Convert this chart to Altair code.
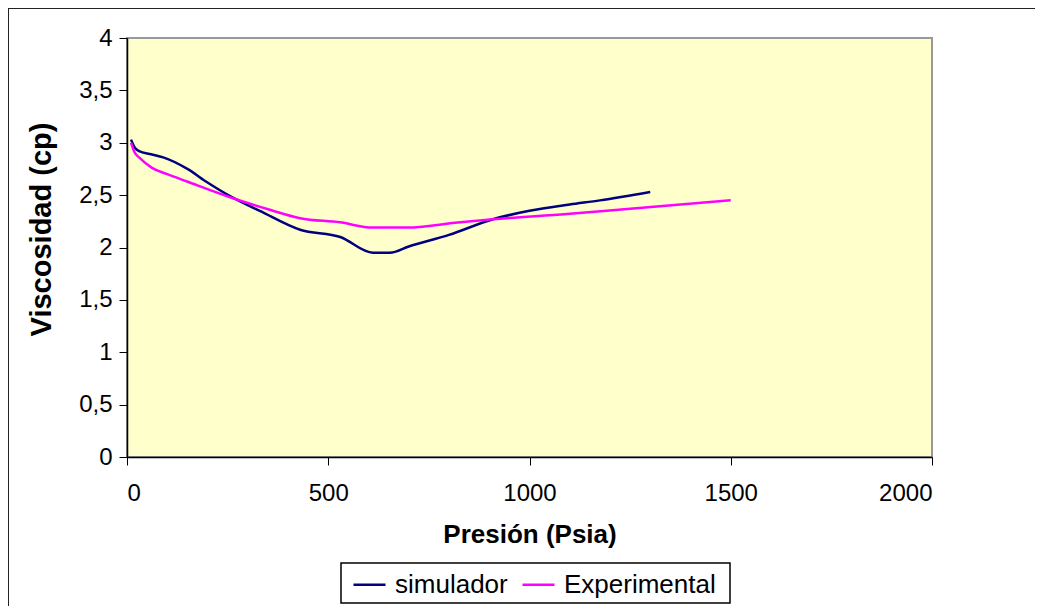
import altair as alt
import pandas as pd

sim_p = [10, 20, 30, 60, 90, 150, 200, 256, 330, 430, 530, 611, 653, 700, 800, 909, 1000, 1100, 1175, 1300]
sim_v = [3.03, 2.95, 2.92, 2.89, 2.86, 2.75, 2.62, 2.49, 2.35, 2.17, 2.10, 1.95, 1.95, 2.01, 2.12, 2.27, 2.35, 2.41, 2.45, 2.53]
exp_p = [10, 20, 30, 62, 100, 149, 256, 355, 430, 529, 611, 700, 800, 909, 1093, 1250, 1500]
exp_v = [3.00, 2.90, 2.86, 2.76, 2.70, 2.63, 2.48, 2.36, 2.28, 2.24, 2.19, 2.19, 2.23, 2.27, 2.32, 2.37, 2.45]
series = ["simulador", "Experimental"]
colors = ["#000080", "#FF00FF"]
y_ticks = [0, 0.5, 1, 1.5, 2, 2.5, 3, 3.5, 4]
x_ticks = [0, 500, 1000, 1500, 2000]

df = pd.concat([
    pd.DataFrame({"p": sim_p, "v": sim_v, "s": series[0], "o": range(len(sim_p))}),
    pd.DataFrame({"p": exp_p, "v": exp_v, "s": series[1], "o": range(len(exp_p))}),
])

W, H = 805, 419

lines = alt.Chart(df).mark_line(strokeWidth=2.5, interpolate="monotone").encode(
    x=alt.X("p:Q", scale=alt.Scale(domain=[0, 2000], nice=False),
            axis=alt.Axis(values=x_ticks, title="Presión (Psia)", format="d")),
    y=alt.Y("v:Q", scale=alt.Scale(domain=[0, 4], nice=False),
            axis=alt.Axis(values=y_ticks, title="Viscosidad (cp)", titleY=191,
                          labelExpr="replace(toString(datum.value), '.', ',')")),
    color=alt.Color("s:N", sort=series,
                    scale=alt.Scale(domain=series, range=colors),
                    legend=alt.Legend(title=None, orient="none", direction="horizontal",
                                      legendX=225, legendY=529)),
    order="o:Q",
)

frame = pd.DataFrame({"k": [0]})
top_rule = alt.Chart(frame).mark_rule(color="#222222", strokeWidth=2, clip=False).encode(
    x=alt.value(-119), x2=alt.value(1000), y=alt.value(-30))
left_rule = alt.Chart(frame).mark_rule(color="#222222", strokeWidth=2, clip=False).encode(
    x=alt.value(-119), y=alt.value(-30), y2=alt.value(700))
legend_box = alt.Chart(frame).mark_rect(fill="#FFFFFF", stroke="#000000", strokeWidth=1.5,
                                        clip=False).encode(
    x=alt.value(214), x2=alt.value(603), y=alt.value(525), y2=alt.value(565))

chart = alt.layer(top_rule, left_rule, legend_box, lines).properties(
    width=W, height=H,
    autosize=alt.AutoSizeParams(type="none"),
    padding={"left": 119, "top": 30, "right": 103, "bottom": 149},
).configure_view(
    fill="#FFFFCC", stroke="#999999", strokeWidth=2
).configure_axis(
    domainColor="#000000", domainWidth=1.5, tickColor="#000000", tickSize=8,
    grid=False, labelFont="Liberation Sans", labelFontSize=24, labelColor="#000000",
    titleFont="Liberation Sans", titleFontWeight="bold", titleColor="#000000",
).configure_axisX(
    labelPadding=16, titlePadding=16, titleFontSize=26,
).configure_axisY(
    labelPadding=7, titlePadding=22, titleFontSize=29,
).configure_legend(
    strokeColor="transparent", padding=0, cornerRadius=0,
    symbolType="stroke", symbolSize=1024, symbolStrokeWidth=2.5,
    labelFont="Liberation Sans", labelFontSize=26, labelColor="#000000",
    columnPadding=9, labelOffset=8,
)

chart.save("out.html", embed_options={"renderer": "svg", "actions": False})
